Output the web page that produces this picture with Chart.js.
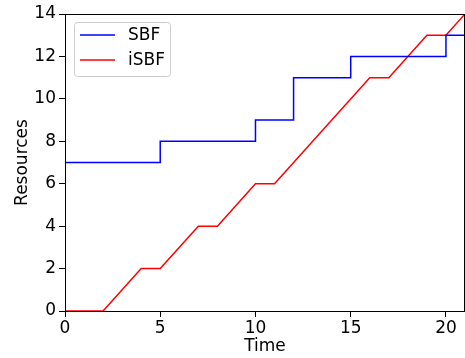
<!DOCTYPE html>
<html>
<head>
<meta charset="utf-8">
<script src="https://cdn.jsdelivr.net/npm/chart.js@4/dist/chart.umd.min.js"></script>
<style>
  html, body { margin: 0; padding: 0; background: #fff; }
  #wrap { width: 465px; height: 358px; }
</style>
</head>
<body>
<div id="wrap"><canvas id="c" width="465" height="358"></canvas></div>
<script>
// Supply-bound functions over time
const sbfTime = [0, 5, 10, 12, 15, 20, 21];
const sbfValues = [7, 8, 9, 11, 12, 13, 13];

const isbfTime = [0, 2, 4, 5, 7, 8, 10, 11, 16, 17, 19, 20, 21];
const isbfValues = [0, 0, 2, 2, 4, 4, 6, 6, 11, 11, 13, 13, 14];

const seriesLabels = ['SBF', 'iSBF'];
const xTitle = 'Time';
const yTitle = 'Resources';

const FONT = 'DejaVu Sans, sans-serif';
const FSIZE = 17;

const toPoints = (xs, ys) => xs.map((x, i) => ({ x: x, y: ys[i] }));

// Legend box drawn inside the plot area, upper left
const insideLegend = {
  id: 'insideLegend',
  afterDraw(chart) {
    const ctx = chart.ctx;
    const a = chart.chartArea;
    const x0 = a.left + 9, y0 = a.top + 8, w = 96, h = 54;
    ctx.save();
    ctx.fillStyle = 'rgba(255,255,255,0.8)';
    ctx.strokeStyle = '#cccccc';
    ctx.lineWidth = 1;
    ctx.beginPath();
    if (ctx.roundRect) ctx.roundRect(x0 + 0.5, y0 + 0.5, w, h, 3);
    else ctx.rect(x0 + 0.5, y0 + 0.5, w, h);
    ctx.fill();
    ctx.stroke();
    ctx.font = FSIZE + 'px ' + FONT;
    ctx.textBaseline = 'middle';
    ctx.fillStyle = '#000';
    chart.data.datasets.forEach((ds, i) => {
      const yy = y0 + 13 + i * 25;
      ctx.strokeStyle = ds.borderColor;
      ctx.lineWidth = 1.5;
      ctx.beginPath();
      ctx.moveTo(x0 + 6, yy);
      ctx.lineTo(x0 + 41, yy);
      ctx.stroke();
      ctx.fillText(ds.label, x0 + 54, yy + 1);
    });
    ctx.restore();
  }
};

// Frame around the plot area
const frame = {
  id: 'frame',
  afterDatasetsDraw(chart) {
    const ctx = chart.ctx;
    const a = chart.chartArea;
    ctx.save();
    ctx.strokeStyle = '#000';
    ctx.lineWidth = 1;
    ctx.strokeRect(a.left + 0.5, a.top + 0.5, a.right - a.left - 1, a.bottom - a.top);
    ctx.restore();
  }
};

new Chart(document.getElementById('c'), {
  type: 'line',
  data: {
    datasets: [
      {
        label: seriesLabels[0],
        data: toPoints(sbfTime, sbfValues),
        borderColor: '#0000ff',
        borderWidth: 1.5,
        stepped: 'before',
        pointRadius: 0,
        fill: false
      },
      {
        label: seriesLabels[1],
        data: toPoints(isbfTime, isbfValues),
        borderColor: '#ff0000',
        borderWidth: 1.5,
        tension: 0,
        pointRadius: 0,
        fill: false
      }
    ]
  },
  options: {
    responsive: false,
    animation: false,
    devicePixelRatio: 1,
    layout: { padding: { top: 14, right: 0, left: 0, bottom: 0 } },
    plugins: {
      legend: { display: false },
      tooltip: { enabled: false }
    },
    scales: {
      x: {
        type: 'linear',
        min: 0,
        max: 21,
        grid: { drawOnChartArea: false, drawTicks: true, tickLength: 6, color: '#000' },
        border: { display: true, color: '#000', width: 1 },
        ticks: {
          stepSize: 5,
          includeBounds: false,
          color: '#000',
          padding: 1,
          font: { family: FONT, size: FSIZE },
          maxRotation: 0
        },
        title: {
          display: true,
          text: xTitle,
          color: '#000',
          font: { family: FONT, size: FSIZE },
          padding: { top: 0, bottom: 1 }
        },
        afterFit(scale) { scale.height = 47; }
      },
      y: {
        type: 'linear',
        min: 0,
        max: 14,
        grid: { drawOnChartArea: false, drawTicks: true, tickLength: 6, color: '#000' },
        border: { display: true, color: '#000', width: 1 },
        ticks: {
          stepSize: 2,
          color: '#000',
          padding: 3,
          font: { family: FONT, size: FSIZE }
        },
        title: {
          display: true,
          text: yTitle,
          color: '#000',
          font: { family: FONT, size: FSIZE },
          padding: { top: 12, bottom: 4 }
        },
        afterFit(scale) { scale.width = 65; }
      }
    }
  },
  plugins: [frame, insideLegend]
});
</script>
</body>
</html>
